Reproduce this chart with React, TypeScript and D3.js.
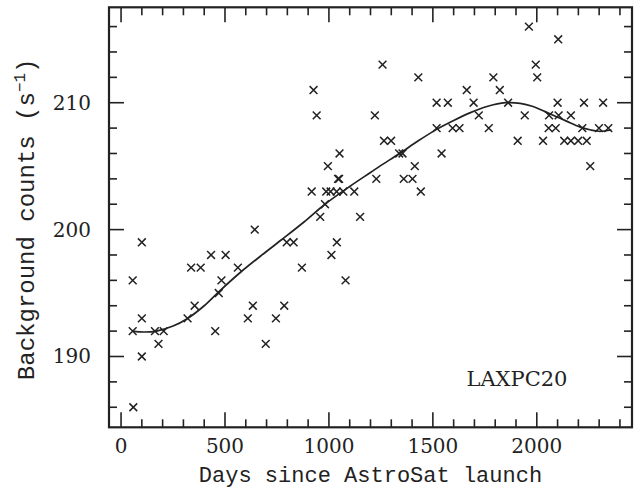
import React from "react";
import * as d3 from "d3";

const days = [
  56, 56, 59, 100, 100, 100, 163, 180, 205, 320, 354, 337, 383, 433, 503, 453, 470, 483, 562, 610,
  634, 643, 696, 745, 785, 797, 830, 870, 917, 926, 941, 958, 981, 987, 995, 1008, 1012, 1037, 1038, 1044,
  1049, 1051, 1069, 1080, 1122, 1150, 1221, 1228, 1258, 1265, 1299, 1338, 1354, 1360, 1402, 1413, 1430, 1442, 1518, 1518,
  1542, 1572, 1595, 1628, 1663, 1696, 1721, 1769, 1791, 1822, 1862, 1908, 1942, 1962, 1995, 2002, 2030, 2057, 2059, 2091,
  2100, 2103, 2105, 2132, 2164, 2164, 2199, 2219, 2227, 2240, 2257, 2299, 2319, 2344,
];
const counts = [
  196, 192, 186, 199, 193, 190, 192, 191, 192, 193, 194, 197, 197, 198, 198, 192, 195, 196, 197, 193,
  194, 200, 191, 193, 194, 199, 199, 197, 203, 211, 209, 201, 202, 203, 205, 203, 198, 203, 199, 204,
  204, 206, 203, 196, 203, 201, 209, 204, 213, 207, 207, 206, 206, 204, 204, 205, 212, 203, 210, 208,
  206, 210, 208, 208, 211, 210, 209, 208, 212, 211, 210, 207, 209, 216, 213, 212, 207, 208, 209, 208,
  210, 215, 209, 207, 207, 209, 207, 208, 210, 207, 205, 208, 210, 208,
];

const fitDays = [
  56, 110, 170, 250, 320, 400, 470, 572, 670, 772, 880, 981, 1100, 1200, 1245, 1340, 1430, 1518, 1600, 1678,
  1760, 1850, 1920, 1982, 2040, 2094, 2143, 2207, 2260, 2300, 2359,
];
const fitCounts = [
  192.0, 191.93, 192.0, 192.4, 193.0, 194.0, 195.1, 196.6, 197.9, 199.2, 200.6, 202.0, 203.4, 204.5, 205.0, 206.0, 207.0, 207.9, 208.6, 209.2,
  209.7, 210.0, 209.95, 209.7, 209.3, 208.9, 208.55, 208.1, 207.85, 207.75, 207.85,
];

const xMajor = [0, 500, 1000, 1500, 2000];
const yMajor = [190, 200, 210];

const W = 637;
const H = 491;
const left = 109, right = 632, top = 7.3, bottom = 427.3;
const ink = "#222";

export default function App() {
  const x = d3.scaleLinear().domain([-58, 2458]).range([left, right]);
  const y = d3.scaleLinear().domain([184.42, 217.52]).range([bottom, top]);
  const xMinor = d3.range(0, 2500, 100).filter((v) => x(v) > left + 1 && x(v) < right - 1);
  const yMinor = d3.range(186, 218, 2).filter((v) => y(v) > top + 1 && y(v) < bottom - 1);
  const line = d3
    .line<number>()
    .x((_, i) => x(fitDays[i]))
    .y((d) => y(d))
    .curve(d3.curveCatmullRom.alpha(0.5));
  const s = 3.9;
  const serif = "DejaVu Serif";
  const mono = "Liberation Mono";
  return (
    <svg width={W} height={H} style={{ position: "absolute", left: 0, top: 0, background: "#fff" }}>
      <rect x={0} y={0} width={W} height={H} fill="#fff" />
      <g stroke={ink} strokeWidth={1.6}>
        {xMinor.map((v) => {
          const major = xMajor.includes(v);
          const L = major ? 15 : 8;
          return (
            <g key={"x" + v}>
              <line x1={x(v)} x2={x(v)} y1={bottom} y2={bottom - L} />
              <line x1={x(v)} x2={x(v)} y1={top} y2={top + L} />
            </g>
          );
        })}
        {yMinor.map((v) => {
          const major = yMajor.includes(v);
          const L = major ? 15 : 8;
          return (
            <g key={"y" + v}>
              <line x1={left} x2={left + L} y1={y(v)} y2={y(v)} />
              <line x1={right} x2={right - L} y1={y(v)} y2={y(v)} />
            </g>
          );
        })}
      </g>
      <rect x={left} y={top} width={right - left} height={bottom - top} fill="none" stroke={ink} strokeWidth={2.2} />
      <path d={line(fitCounts) || ""} fill="none" stroke={ink} strokeWidth={1.7} />
      <g stroke={ink} strokeWidth={1.5}>
        {days.map((d, i) => (
          <path
            key={i}
            d={`M${x(d) - s},${y(counts[i]) - s}L${x(d) + s},${y(counts[i]) + s}M${x(d) - s},${y(counts[i]) + s}L${x(d) + s},${y(counts[i]) - s}`}
          />
        ))}
      </g>
      <g fontFamily={serif} fontSize={20} fill={ink}>
        {xMajor.map((v) => (
          <text key={v} x={x(v)} y={453} textAnchor="middle">
            {v}
          </text>
        ))}
        {yMajor.map((v) => (
          <text key={v} x={91} y={y(v) + 7} textAnchor="end">
            {v}
          </text>
        ))}
      </g>
      <text x={517} y={386} fontFamily={serif} fontSize={21} fill={ink} textAnchor="middle">
        LAXPC20
      </text>
      <text x={(left + right) / 2} y={482} fontFamily={mono} fontSize={22} fill={ink} textAnchor="middle">
        Days since AstroSat launch
      </text>
      <text
        transform={`translate(34,${(top + bottom) / 2 + 2}) rotate(-90)`}
        fontFamily={mono}
        fontSize={24}
        fill={ink}
        textAnchor="middle"
      >
        Background counts (s
        <tspan fontSize={16} dy={-9}>−1</tspan>
        <tspan dy={9}>)</tspan>
      </text>
    </svg>
  );
}
